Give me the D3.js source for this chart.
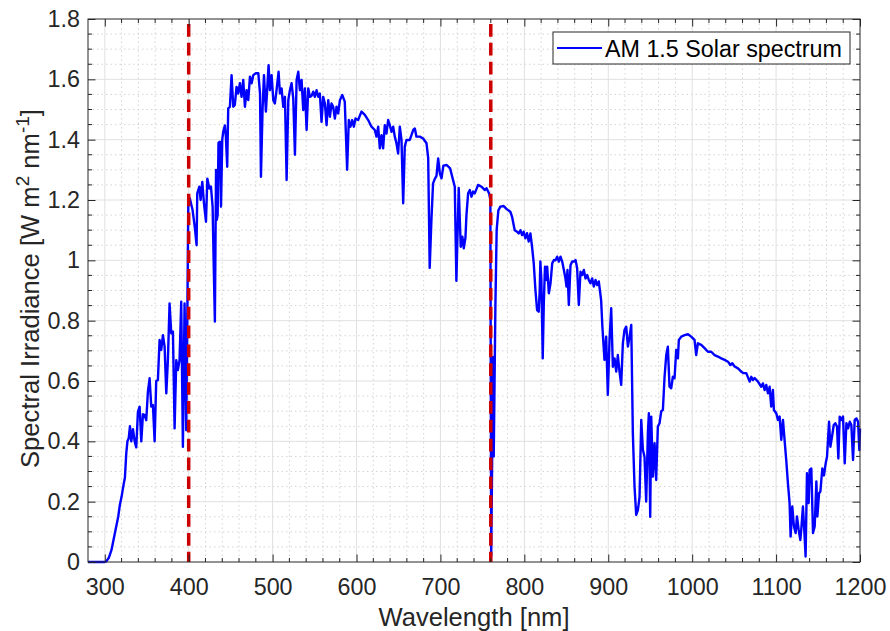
<!DOCTYPE html>
<html>
<head>
<meta charset="utf-8">
<script src="https://cdn.jsdelivr.net/npm/d3@7"></script>
<style>
  html, body { margin: 0; padding: 0; background: #fff; }
  svg { display: block; }
  text { font-family: "Liberation Sans", Arial, Helvetica, sans-serif; }
</style>
</head>
<body>
<svg id="chart" width="890" height="631"></svg>
<script>
// ---------------- data ----------------
const wavelength = [
  280,290,300,302,305,308,312,316,318,320,322,324,325.6,327,328.5,330,331.6,333.6,335.6,337.5,
  339.5,341.5,343.5,345.5,347.5,349.4,351.4,353.4,355.4,357.4,359.4,361.3,363.3,365.3,367.3,369.3,
  371.3,373.3,375.2,377.2,379.2,381.2,383.2,385.2,387.1,389.1,391.1,393.1,395.1,397.1,398.5,399.5,
  401.4,404.6,407.4,409.4,410.2,412.6,414.2,416.2,418.2,420.6,422.2,424.6,426.5,428.5,429.7,431.2,
  432.6,433.5,434.5,435.5,437.1,438.5,440,441.1,443.1,444.3,445.9,447.1,449.1,451.1,453.1,455,
  457,459,461,463,465,467,469,471,473,475,477,480,483,485,486.1,488,489.7,492,493.7,495.2,496.8,
  498.8,500.8,502.7,504.7,507.1,508.7,510.7,512.7,514.7,516.7,518.7,520.6,522.6,524.6,526.6,528.6,
  530.6,532.5,534.5,536.5,538.5,540.5,542.5,544.4,546.4,548.4,550.4,552.4,554.4,556.3,558.3,560.3,
  562.3,564.3,566.3,568.3,570.2,572.2,574.2,576.2,578.2,580.2,583,586,588.8,590.8,592.8,594.8,
  596.8,598.8,601.9,605.9,609.9,613.9,617.8,621.8,623.8,625.8,627.8,629.8,631.7,633.7,635.7,637.7,
  639.7,641.7,643.7,645.6,647.6,649.6,651.6,653.6,655.6,657.5,659.5,663.5,667.5,669.5,671.4,675.4,
  679.4,683.4,685.4,687.2,689.2,691.2,693.3,695.3,697.3,699.3,701.3,703.5,707.5,711.5,714.7,717.1,
  719,721.8,724.2,726.2,727.8,729.8,731,733,735,737,738.9,740.9,744.9,748.9,752.9,754.9,758,759.5,
  760.5,761.5,762.5,763.5,764.5,765.5,767,769,771.4,775.4,779.3,783.3,785.3,788.5,791.3,793.3,795.3,
  797.3,799.2,801.2,803.2,805.2,807.2,809.2,811.2,813.2,815.2,817.1,818.3,819.1,820.3,821.9,823.2,
  824.6,826.1,827.2,829.2,831.2,833.2,835.2,837.2,839.1,841.1,843.1,845.1,847.1,849,850.2,851.4,853,
  855,857,859,861,862.9,864.9,866.9,868.9,870.9,872.9,874.9,876.8,878.8,880.8,882.8,884.8,886.8,
  888.7,891.5,893,895.5,897.5,899.5,901.5,903.5,905.5,907.5,909.5,911.4,913.4,915.4,917.4,919.4,
  921.4,923.4,925.4,927.4,929.3,931.3,933.3,935.3,937.3,939.3,941.3,943.2,945.2,947.2,948.4,950,
  951.2,953.2,955.2,957.1,959.1,961.1,963.1,965.1,967.1,969.1,971,973,975,977,979,981,983,984.1,
  987,991,995,998.8,1002.8,1004.8,1006.8,1010.8,1014.8,1018.8,1022.7,1026.7,1030.7,1034.7,1038.7,
  1042.7,1045.4,1047.8,1050.6,1054.6,1058.5,1061.3,1064.5,1068.5,1070.4,1072.4,1074.4,1078.4,1082.3,
  1084.3,1086.3,1088.3,1090.3,1092.3,1094.2,1096.2,1097.4,1100.2,1102.2,1104.2,1106.2,1108.2,1110.1,
  1112.1,1114.1,1116.1,1117.3,1119.3,1121.3,1123.3,1124.9,1126.9,1128.9,1130,1132,1134,1135.2,1136.8,
  1138.8,1140,1142,1144,1146,1148,1149.2,1151.2,1152.8,1155.1,1157.1,1159.1,1160.7,1163.1,1164.7,
  1166.7,1168.7,1170.6,1172.6,1174.2,1175.8,1177.8,1179.8,1181.8,1183.8,1185.8,1187.8,1189.7,1191.7,
  1193.7,1195.7,1197.7,1199.2,1200
];
const irradiance = [
  0,0,0,0.003,0.015,0.04,0.095,0.15,0.19,0.216,0.25,0.28,0.36,0.40,0.41,0.45,0.40,0.44,0.40,0.38,
  0.498,0.515,0.40,0.49,0.487,0.47,0.565,0.609,0.515,0.52,0.40,0.60,0.603,0.736,0.703,0.752,
  0.714,0.559,0.669,0.857,0.758,0.764,0.443,0.669,0.636,0.669,0.863,0.382,0.857,0.437,0.86,1.178,
  1.205,1.167,1.107,1.05,1.222,1.244,1.20,1.26,1.189,1.128,1.271,1.238,1.245,1.178,1.0,0.797,
  1.30,1.134,1.15,1.39,1.393,1.178,1.40,1.426,1.447,1.41,1.31,1.504,1.509,1.614,1.509,1.515,
  1.575,1.553,1.587,1.542,1.598,1.509,1.564,1.531,1.609,1.587,1.614,1.62,1.62,1.553,1.277,1.498,1.614,1.493,1.575,1.647,1.564,
  1.614,1.531,1.52,1.564,1.625,1.553,1.57,1.509,1.542,1.266,1.531,1.564,1.587,1.537,1.35,1.598,
  1.625,1.564,1.598,1.498,1.57,1.432,1.57,1.542,1.545,1.559,1.542,1.564,1.542,1.553,1.459,1.542,
  1.52,1.448,1.531,1.476,1.52,1.509,1.47,1.509,1.487,1.531,1.548,1.526,1.30,1.465,1.443,1.465,
  1.443,1.47,1.465,1.493,1.482,1.465,1.443,1.432,1.41,1.443,1.371,1.415,1.371,1.448,1.42,1.465,
  1.448,1.426,1.443,1.41,1.388,1.354,1.443,1.399,1.189,1.377,1.399,1.399,1.432,1.437,1.41,1.41,
  1.404,1.388,1.34,0.975,1.13,1.255,1.27,1.28,1.338,1.288,1.272,1.314,1.316,1.305,1.27,1.244,
  0.932,1.24,1.045,1.078,1.04,1.075,1.15,1.222,1.233,1.211,1.228,1.222,1.25,1.244,1.233,1.239,1.222,1.2,
  0.02,0.3,0.68,0.35,0.6,0.85,1.1,1.165,1.178,1.18,1.169,1.161,1.145,1.10,1.095,1.089,1.10,
  1.084,1.095,1.073,1.09,1.062,1.089,1.045,0.99,0.902,0.835,0.83,0.90,0.996,0.935,0.675,0.86,
  0.979,0.935,0.979,0.891,0.924,0.99,1.001,1.0,1.012,0.996,1.012,0.996,0.968,0.94,0.913,0.968,0.852,
  0.984,0.996,0.996,1.001,0.974,0.852,0.962,0.951,0.968,0.94,0.951,0.935,0.924,0.94,0.913,0.935,0.918,
  0.93,0.868,0.78,0.67,0.747,0.554,0.736,0.841,0.647,0.675,0.631,0.686,0.631,0.587,0.725,0.77,
  0.78,0.714,0.747,0.786,0.427,0.25,0.156,0.172,0.216,0.471,0.371,0.349,0.2,0.427,0.493,0.15,
  0.482,0.283,0.394,0.272,0.449,0.46,0.499,0.504,0.614,0.686,0.714,0.581,0.576,0.614,0.609,0.703,0.675,0.736,
  0.747,0.752,0.755,0.747,0.736,0.686,0.725,0.72,0.709,0.697,0.697,0.686,0.681,0.675,0.67,
  0.664,0.653,0.659,0.648,0.642,0.631,0.626,0.626,0.598,0.614,0.603,0.61,0.598,0.581,
  0.592,0.57,0.587,0.559,0.581,0.515,0.57,0.504,0.493,0.471,0.482,0.405,0.471,0.405,
  0.338,0.261,0.195,0.084,0.184,0.118,0.096,0.151,0.107,0.073,0.107,0.184,0.084,0.018,0.294,
  0.195,0.305,0.31,0.096,0.118,0.267,0.151,0.228,0.234,0.31,0.287,0.327,0.349,0.465,0.382,
  0.416,0.454,0.46,0.449,0.343,0.482,0.471,0.482,0.327,0.46,0.443,0.465,0.454,0.338,
  0.471,0.476,0.465,0.371,0.443
];
const xTicks = [300, 400, 500, 600, 700, 800, 900, 1000, 1100, 1200];
const yTicks = [0, 0.2, 0.4, 0.6, 0.8, 1, 1.2, 1.4, 1.6, 1.8];
const xMinor = d3.range(280, 1201, 20);
const yMinor = d3.range(0, 1.8001, 0.05);
const markerLines = [400, 760];
const seriesName = "AM 1.5 Solar spectrum";
const xLabel = "Wavelength [nm]";

// ---------------- layout ----------------
const L = 88, T = 19, R = 860, B = 562;
const tickFont = 23.3, labelFont = 25.6;
const axisColor = "#262626";

const svg = d3.select("#chart");
const x = d3.scaleLinear().domain([280, 1200]).range([L, R]);
const y = d3.scaleLinear().domain([0, 1.8]).range([B, T]);

// white plot background
svg.append("rect").attr("x", L).attr("y", T).attr("width", R - L).attr("height", B - T).attr("fill", "#fff");

// minor grid (dotted)
const grid = svg.append("g");
grid.selectAll(".gxm").data(xMinor.filter(v => Math.round(v) % 100 !== 0 && v > 280 && v < 1200))
  .enter().append("line")
  .attr("x1", d => x(d)).attr("x2", d => x(d)).attr("y1", T).attr("y2", B)
  .attr("stroke", "#d4d4d4").attr("stroke-width", 1).attr("stroke-dasharray", "1.5,3");
grid.selectAll(".gym").data(yMinor.filter(v => Math.abs(v / 0.2 - Math.round(v / 0.2)) > 1e-6 && v > 0 && v < 1.8))
  .enter().append("line")
  .attr("x1", L).attr("x2", R).attr("y1", d => y(d)).attr("y2", d => y(d))
  .attr("stroke", "#d4d4d4").attr("stroke-width", 1).attr("stroke-dasharray", "1.5,3");
// major grid
grid.selectAll(".gx").data(xTicks.filter(v => v < 1200))
  .enter().append("line")
  .attr("x1", d => x(d)).attr("x2", d => x(d)).attr("y1", T).attr("y2", B)
  .attr("stroke", "#e0e0e0").attr("stroke-width", 1);
grid.selectAll(".gy").data(yTicks.filter(v => v > 0 && v < 1.8))
  .enter().append("line")
  .attr("x1", L).attr("x2", R).attr("y1", d => y(d)).attr("y2", d => y(d))
  .attr("stroke", "#e0e0e0").attr("stroke-width", 1);

// data line
const pts = wavelength.map((w, i) => [w, irradiance[i]]);
const line = d3.line().x(d => x(d[0])).y(d => y(d[1]));
svg.append("path").datum(pts).attr("d", line)
  .attr("fill", "none").attr("stroke", "#0000ff").attr("stroke-width", 2.4)
  .attr("stroke-linejoin", "round");

// red dashed marker lines
svg.selectAll(".mk").data(markerLines).enter().append("line")
  .attr("x1", d => x(d)).attr("x2", d => x(d)).attr("y1", y(1.8)).attr("y2", y(0))
  .attr("stroke", "#cc0000").attr("stroke-width", 3.5)
  .attr("stroke-dasharray", "12.7,6.15").attr("stroke-dashoffset", 13.85);

// axes
function styleAxis(g) {
  g.select(".domain").remove();
  g.selectAll(".tick line").attr("stroke", axisColor).attr("stroke-width", 1);
  g.selectAll(".tick text").attr("fill", axisColor).style("font-size", tickFont + "px")
    .style("font-family", '"Liberation Sans", Arial, Helvetica, sans-serif');
}
const fmt = d => d3.format("~g")(d);
svg.append("g").attr("transform", `translate(0,${B})`)
  .call(d3.axisBottom(x).tickValues(xTicks).tickSize(-7.5).tickPadding(16.5).tickFormat(fmt))
  .call(styleAxis);
svg.append("g").attr("transform", `translate(0,${T})`)
  .call(d3.axisTop(x).tickValues(xTicks).tickSize(-7.5).tickFormat(""))
  .call(styleAxis);
svg.append("g").attr("transform", `translate(${L},0)`)
  .call(d3.axisLeft(y).tickValues(yTicks).tickSize(-7.5).tickPadding(8).tickFormat(fmt))
  .call(styleAxis);
svg.append("g").attr("transform", `translate(${R},0)`)
  .call(d3.axisRight(y).tickValues(yTicks).tickSize(-7.5).tickFormat(""))
  .call(styleAxis);
// minor ticks
const mt = svg.append("g").attr("stroke", axisColor).attr("stroke-width", 1);
xMinor.filter(v => Math.round(v) % 100 !== 0 && v > 280 && v < 1200).forEach(v => {
  mt.append("line").attr("x1", x(v)).attr("x2", x(v)).attr("y1", B).attr("y2", B - 4);
  mt.append("line").attr("x1", x(v)).attr("x2", x(v)).attr("y1", T).attr("y2", T + 4);
});
yMinor.filter(v => Math.abs(v / 0.2 - Math.round(v / 0.2)) > 1e-6).forEach(v => {
  mt.append("line").attr("x1", L).attr("x2", L + 4).attr("y1", y(v)).attr("y2", y(v));
  mt.append("line").attr("x1", R).attr("x2", R - 4).attr("y1", y(v)).attr("y2", y(v));
});
// box
svg.append("rect").attr("x", L).attr("y", T).attr("width", R - L).attr("height", B - T)
  .attr("fill", "none").attr("stroke", axisColor).attr("stroke-width", 1);

// axis labels
svg.append("text").attr("x", (L + R) / 2).attr("y", 626).attr("text-anchor", "middle")
  .attr("fill", axisColor).style("font-size", labelFont + "px").text(xLabel);
const yl = svg.append("text").attr("text-anchor", "middle")
  .attr("transform", `translate(38.5,${(T + B) / 2 - 2}) rotate(-90)`)
  .attr("fill", axisColor).style("font-size", labelFont + "px");
yl.append("tspan").text("Spectral Irradiance [W m");
yl.append("tspan").attr("dy", -10).style("font-size", "19px").text("2");
yl.append("tspan").attr("dy", 10).text(" nm");
yl.append("tspan").attr("dy", -10).style("font-size", "19px").text("-1");
yl.append("tspan").attr("dy", 10).text("]");

// legend
const lg = svg.append("g");
lg.append("rect").attr("x", 553).attr("y", 32).attr("width", 297).attr("height", 32)
  .attr("fill", "#fff").attr("stroke", axisColor).attr("stroke-width", 1);
lg.append("line").attr("x1", 557).attr("x2", 602).attr("y1", 48).attr("y2", 48)
  .attr("stroke", "#0000ff").attr("stroke-width", 2);
lg.append("text").attr("x", 605).attr("y", 56.5).attr("fill", "#000")
  .style("font-size", tickFont + "px").text(seriesName);
</script>
</body>
</html>
